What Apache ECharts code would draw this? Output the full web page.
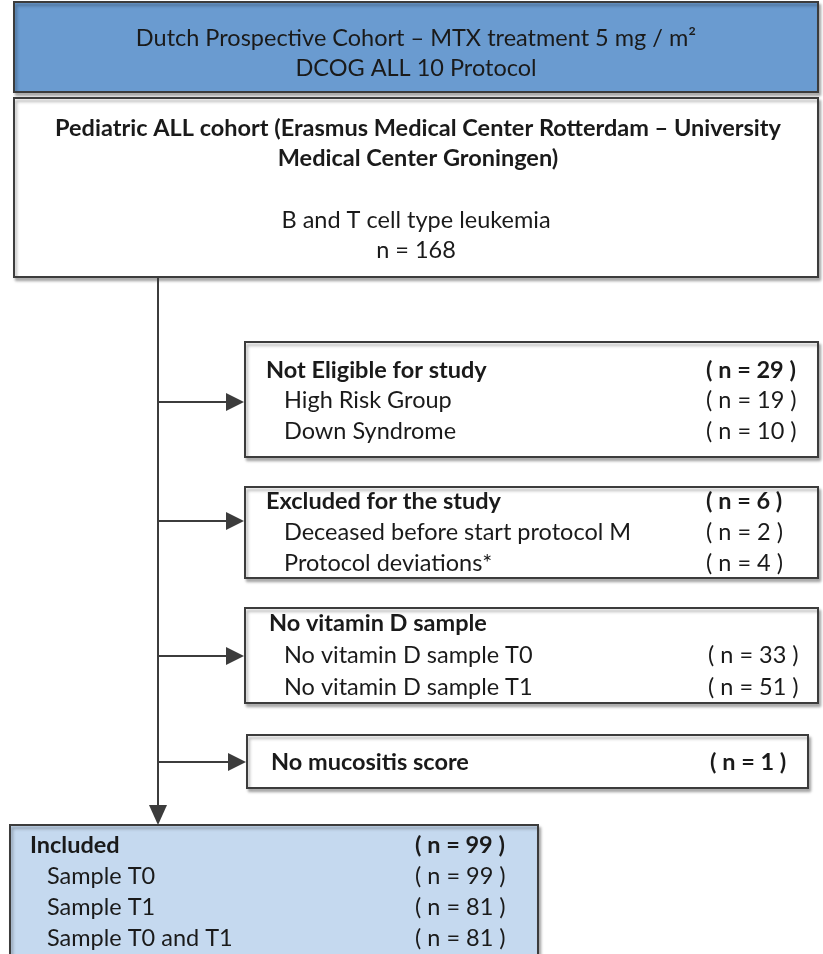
<!DOCTYPE html>
<html>
<head>
<meta charset="utf-8">
<script src="https://cdn.jsdelivr.net/npm/echarts@6/dist/echarts.min.js"></script>
<style>html,body{margin:0;padding:0;background:#fff}#c{width:823px;height:954px}</style>
</head>
<body>
<div id="c"></div>
<script>
// ---- Data (text + counts) ----
const headerLines = ['Dutch Prospective Cohort \u2013 MTX treatment 5 mg / m\u00B2', 'DCOG ALL 10 Protocol'];
const cohortTitleLines = ['Pediatric ALL cohort (Erasmus Medical Center Rotterdam \u2013 University', 'Medical Center Groningen)'];
const cohortDescLines = ['B and T cell type leukemia'];
const cohortN = 168;

const notEligibleLabels = ['Not Eligible for study', 'High Risk Group', 'Down Syndrome'];
const notEligibleN = [29, 19, 10];
const excludedLabels = ['Excluded for the study', 'Deceased before start protocol M', 'Protocol deviations*'];
const excludedN = [6, 2, 4];
const noVitDLabels = ['No vitamin D sample', 'No vitamin D sample T0', 'No vitamin D sample T1'];
const noVitDN = [null, 33, 51];
const noMucLabels = ['No mucositis score'];
const noMucN = [1];
const includedLabels = ['Included', 'Sample T0', 'Sample T1', 'Sample T0 and T1'];
const includedN = [99, 99, 81, 81];

// ---- Layout ----
const FONT = 'Lato, "Open Sans", sans-serif';
const FS = 23.5;
const TXT = '#1a1a1a';
const EDGE = '#3c3c3c';
const SHADOW = {shadowBlur: 3, shadowOffsetX: 2, shadowOffsetY: 3, shadowColor: 'rgba(0,0,0,0.3)'};
const spineX = 158;

const listBoxes = [
  {labels: notEligibleLabels, ns: notEligibleN, x: 245, y: 342, w: 573, h: 115, y0: 370, gap: 30.5, lx: 266, ix: 284, nx: 706, fill: '#fff', arrowY: 402},
  {labels: excludedLabels, ns: excludedN, x: 245, y: 487, w: 573, h: 91, y0: 501, gap: 31, lx: 266, ix: 284, nx: 706, fill: '#fff', arrowY: 521},
  {labels: noVitDLabels, ns: noVitDN, x: 245, y: 608, w: 573, h: 95, y0: 623, gap: 32, lx: 269, ix: 284, nx: 708, fill: '#fff', arrowY: 656},
  {labels: noMucLabels, ns: noMucN, x: 247, y: 735, w: 561, h: 53, y0: 762, gap: 30, lx: 271, ix: 271, nx: 710, fill: '#fff', arrowY: 762, allBold: true},
  {labels: includedLabels, ns: includedN, x: 10, y: 825, w: 528, h: 140, y0: 845, gap: 31, lx: 30, ix: 47, nx: 415, fill: '#c5d9ef', arrowY: null}
];

const els = [];
function box(x, y, w, h, fill) {
  els.push({type: 'rect', shape: {x: x, y: y, width: w, height: h},
    style: Object.assign({fill: fill, stroke: EDGE, lineWidth: 2}, SHADOW), z: 1});
}
function text(str, x, y, opts) {
  els.push({type: 'text', x: x, y: y, z: 5,
    style: {text: str, fill: TXT, font: (opts && opts.bold ? 'bold ' : '') + FS + 'px ' + FONT,
      textAlign: (opts && opts.align) || 'left', textVerticalAlign: 'middle'}});
}
function fmtN(n) { return '( n = ' + n + ' )'; }

// header
box(14, 2, 804, 90, '#6a9bd0');
headerLines.forEach((t, i) => text(t, 416, 38 + i * 30, {align: 'center'}));
// cohort
box(14, 98, 804, 179, '#fff');
cohortTitleLines.forEach((t, i) => text(t, 418, 128 + i * 30, {align: 'center', bold: true}));
cohortDescLines.forEach((t, i) => text(t, 416, 220 + i * 30, {align: 'center'}));
text('n = ' + cohortN, 416, 250, {align: 'center'});

// spine
els.push({type: 'line', shape: {x1: spineX, y1: 277, x2: spineX, y2: 808}, style: {stroke: EDGE, lineWidth: 2}, z: 2});
els.push({type: 'polygon', shape: {points: [[spineX - 9, 805], [spineX + 9, 805], [spineX, 825]]}, style: {fill: EDGE}, z: 2});

listBoxes.forEach(b => {
  box(b.x, b.y, b.w, b.h, b.fill);
  b.labels.forEach((lab, i) => {
    const y = b.y0 + i * b.gap;
    const bold = i === 0 || b.allBold;
    text(lab, i === 0 ? b.lx : b.ix, y, {bold: bold});
    if (b.ns[i] != null) text(fmtN(b.ns[i]), b.nx, y, {bold: bold});
  });
  if (b.arrowY != null) {
    els.push({type: 'line', shape: {x1: spineX, y1: b.arrowY, x2: b.x - 16, y2: b.arrowY}, style: {stroke: EDGE, lineWidth: 2}, z: 2});
    els.push({type: 'polygon', shape: {points: [[b.x - 19, b.arrowY - 9], [b.x - 19, b.arrowY + 9], [b.x - 1, b.arrowY]]}, style: {fill: EDGE}, z: 2});
  }
});

const chart = echarts.init(document.getElementById('c'), null, {renderer: 'canvas'});
chart.setOption({animation: false, backgroundColor: '#fff', graphic: {elements: els}});
</script>
</body>
</html>
